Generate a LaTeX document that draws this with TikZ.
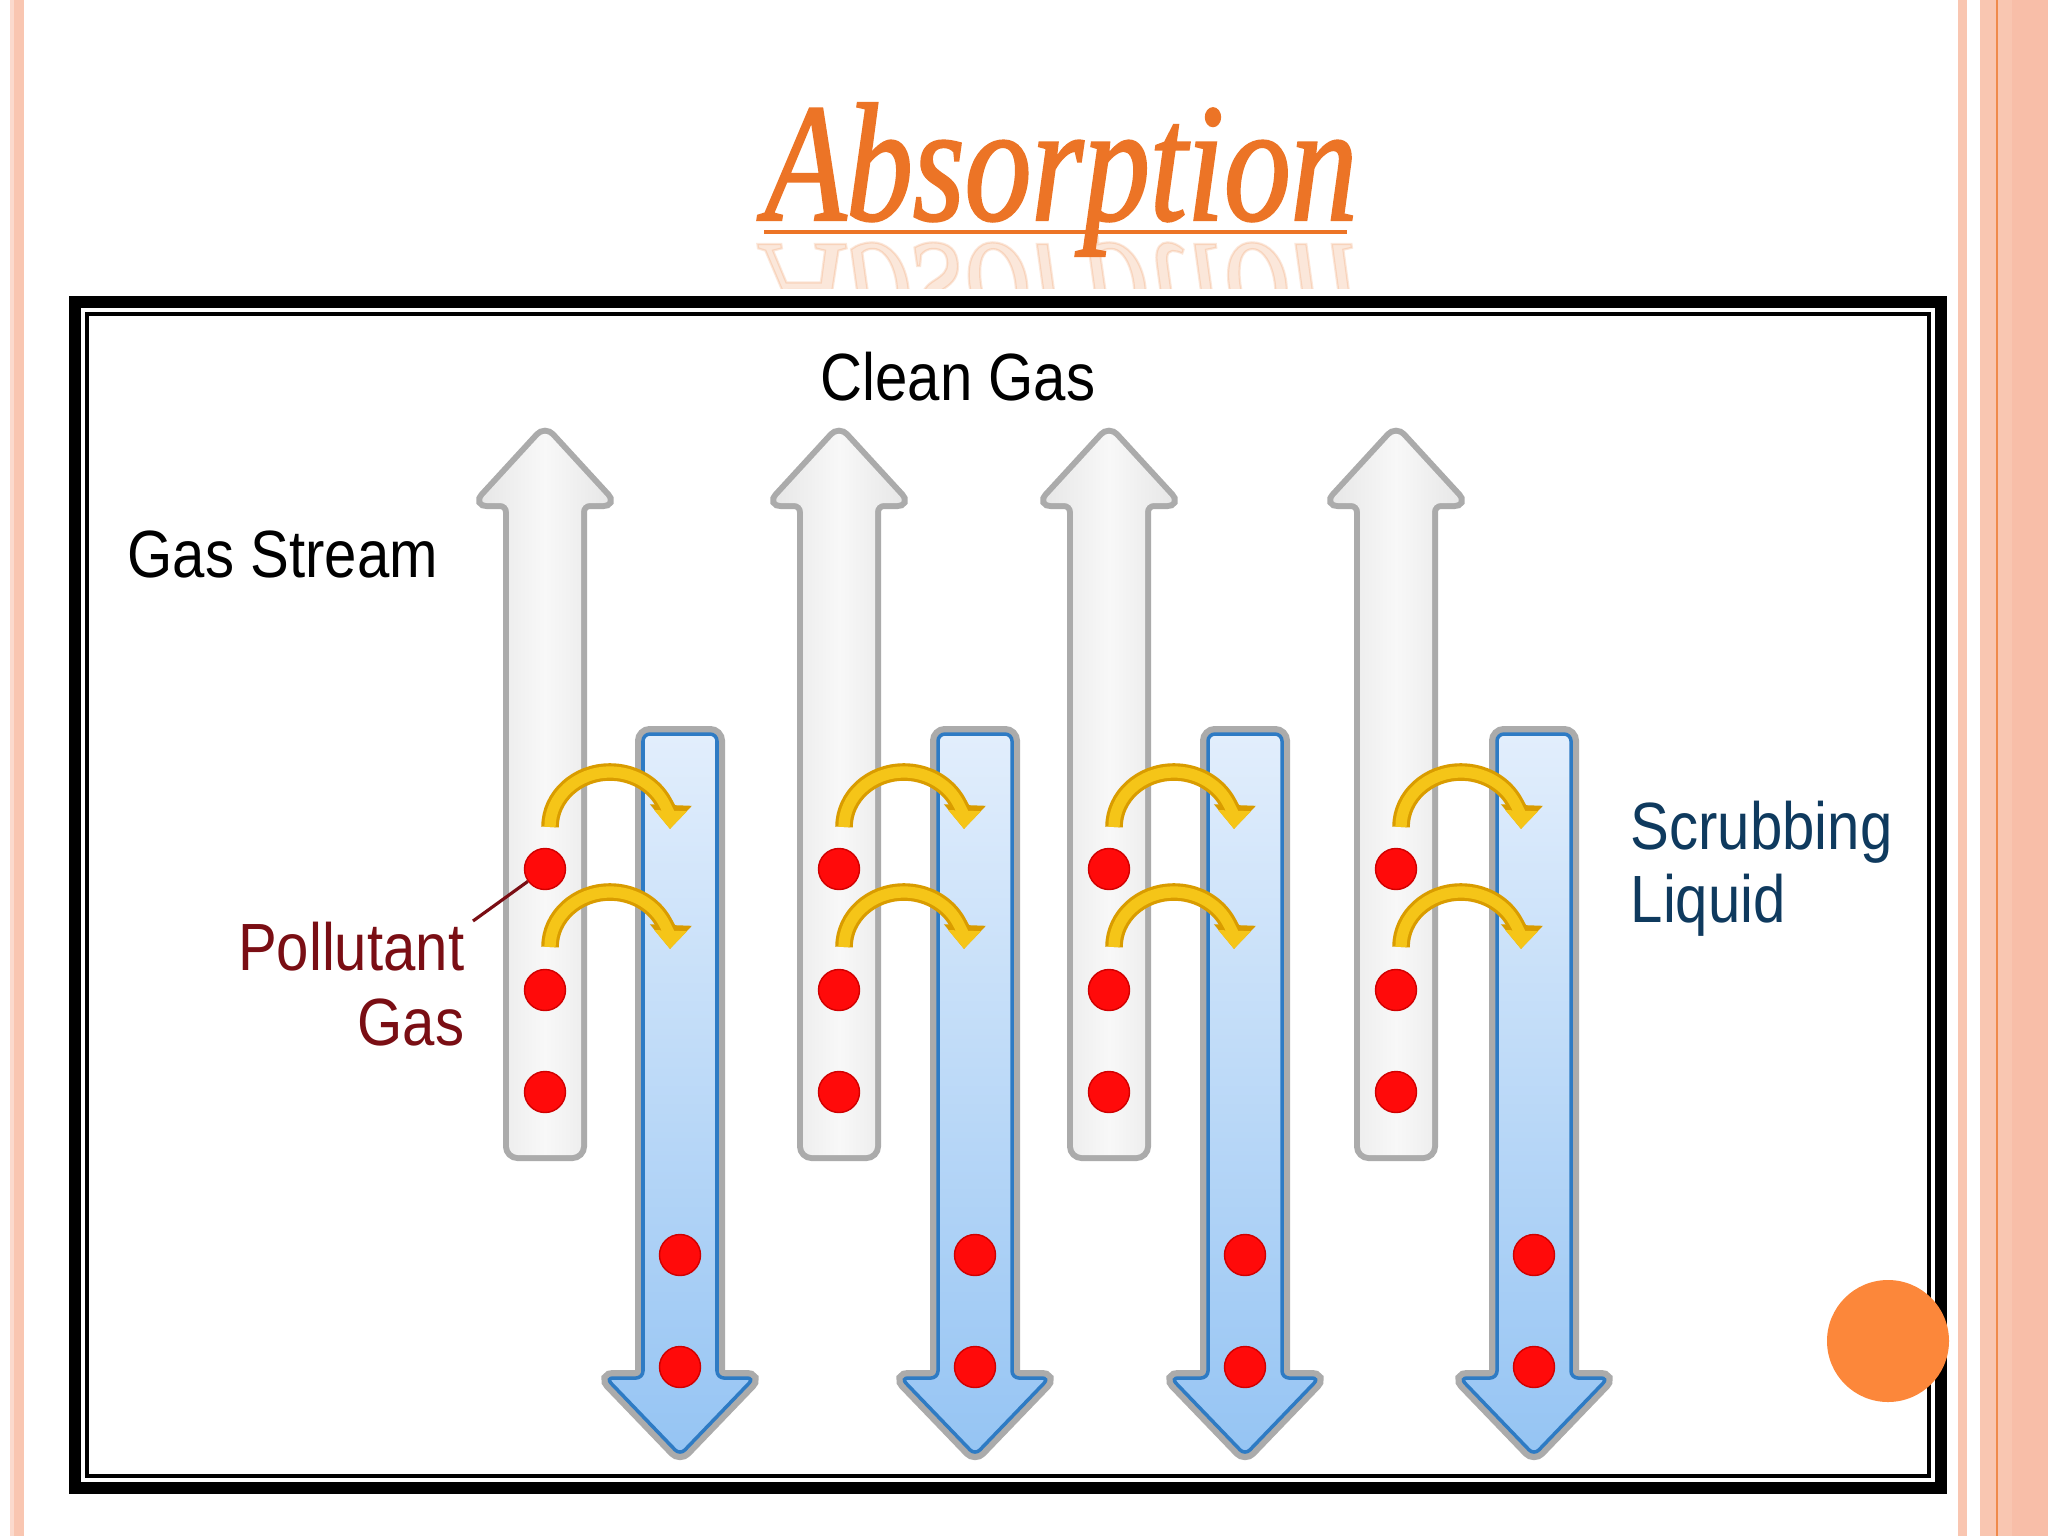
\documentclass[tikz,border=0pt]{standalone}
\usepackage{fontspec}
\setmainfont{Liberation Sans}
\newfontfamily\labfont[FakeStretch=0.87]{Liberation Sans}
\newfontfamily\titlefont[FakeStretch=0.79, FakeBold=1.3]{Liberation Serif}
\usetikzlibrary{arrows.meta}
\definecolor{stripeA}{HTML}{FBDACD}
\definecolor{stripeB}{HTML}{F9C6B1}
\definecolor{stripeC}{HTML}{F8BEA8}
\definecolor{stripeline}{HTML}{F08A4B}
\definecolor{titleorange}{HTML}{EC7426}
\definecolor{grayedge}{HTML}{ABABAB}
\definecolor{upmid}{HTML}{F8F8F8}
\definecolor{upside}{HTML}{E6E6E6}
\definecolor{blueline}{HTML}{2E7BC4}
\definecolor{bluetop}{HTML}{E2EEFC}
\definecolor{bluebot}{HTML}{95C4F3}
\definecolor{gold}{HTML}{F5C518}
\definecolor{golddark}{HTML}{D99C00}
\definecolor{dotred}{HTML}{FF0A0A}
\definecolor{dotedge}{HTML}{D00000}
\definecolor{pollred}{HTML}{7A0E14}
\definecolor{navy}{HTML}{0F3A5E}
\definecolor{circorange}{HTML}{FC873A}
\tikzset{
  lab/.style={font=\labfont\fontsize{19pt}{22pt}\selectfont, inner sep=0pt, text=black},
  dot/.style={circle, fill=dotred, draw=dotedge, line width=0.4pt, minimum size=0.41cm, inner sep=0pt},
  upedge/.style={draw=grayedge, line width=3.41pt, rounded corners=2.5pt},
  upfill/.style={left color=upside, right color=upside, middle color=upmid, rounded corners=2.5pt},
  downedge/.style={draw=grayedge, line width=4.55pt, rounded corners=2pt},
  downfill/.style={top color=bluetop, bottom color=bluebot, rounded corners=2pt},
  downline/.style={draw=blueline, line width=1pt, rounded corners=2pt},
  arcdark/.style={golddark, line width=5pt, -{Triangle[width=11.5pt,length=6.8pt]}},
  arclight/.style={gold, line width=3.2pt, -{Triangle[width=9pt,length=5.2pt]}}
}
\begin{document}
\begin{tikzpicture}[x=0.01cm,y=-0.01cm]
\fill[white] (0,0) rectangle (2048,1536);
\useasboundingbox (0,0) rectangle (2048,1536);
% side stripes
\fill[stripeA] (10,0) rectangle (14,1536);
\fill[stripeB] (14,0) rectangle (24,1536);
\fill[stripeB] (1958,0) rectangle (1967,1536);
\fill[stripeB] (1980,0) rectangle (2048,1536);
\fill[stripeC] (2012,0) rectangle (2048,1536);
\fill[stripeline] (1996,0) rectangle (1998,1536);
% title
\node[anchor=base west, inner sep=0pt, text=titleorange, font=\titlefont\itshape\fontsize{48pt}{50pt}\selectfont] (title) at (764,220) {Absorption};
\begin{scope}
\clip (700,235) rectangle (1400,288);
\node[anchor=base west, inner sep=0pt, text=titleorange, opacity=0.17, yscale=-1, transform shape, font=\titlefont\itshape\fontsize{48pt}{50pt}\selectfont] (titlerefl) at (764,244) {Absorption};
\end{scope}
\draw[titleorange, line width=1.2pt] (764,232) -- (1347,232);
% frame
\draw[black, line width=3.41pt] (75,302) rectangle (1941,1488);
\draw[black, line width=1.14pt] (87,314) rectangle (1929,1475.5);
% arrows
\foreach \u/\d/\i in {545/680/1, 839/975/2, 1109/1245/3, 1396/1534/4}{
  \path[upedge] (\u,430) -- ({\u+67},503) -- ({\u+36},503) -- ({\u+36},1155) -- ({\u-36},1155) -- ({\u-36},503) -- ({\u-67},503) -- cycle;
  \shade[upfill] (\u,430) -- ({\u+67},503) -- ({\u+36},503) -- ({\u+36},1155) -- ({\u-36},1155) -- ({\u-36},503) -- ({\u-67},503) -- cycle;
  \path[downedge] ({\d-37},734) -- ({\d+37},734) -- ({\d+37},1378) -- ({\d+74},1378) -- (\d,1455) -- ({\d-74},1378) -- ({\d-37},1378) -- cycle;
  \shade[downfill] ({\d-37},734) -- ({\d+37},734) -- ({\d+37},1378) -- ({\d+74},1378) -- (\d,1455) -- ({\d-74},1378) -- ({\d-37},1378) -- cycle;
  \path[downline] ({\d-37},734) -- ({\d+37},734) -- ({\d+37},1378) -- ({\d+74},1378) -- (\d,1455) -- ({\d-74},1378) -- ({\d-37},1378) -- cycle;
  \foreach \cy in {827,947}{
    \draw[arcdark] ({\u+5},\cy) arc[start angle=180, end angle=362, x radius=60, y radius=55];
    \draw[arclight] ({\u+5},\cy) arc[start angle=180, end angle=362, x radius=60, y radius=55];
  }
  \node[dot] (gu\i a) at (\u,869) {};
  \node[dot] (gu\i b) at (\u,990) {};
  \node[dot] (gu\i c) at (\u,1092) {};
  \node[dot] (ld\i a) at (\d,1255) {};
  \node[dot] (ld\i b) at (\d,1367) {};
}
% labels
\node[lab, anchor=base west] (clean) at (820,400) {Clean Gas};
\node[lab, anchor=base west] (stream) at (127,577) {Gas Stream};
\node[lab, anchor=base east, text=pollred] (poll1) at (465,970) {Pollutant};
\node[lab, anchor=base east, text=pollred] (poll2) at (465,1045) {Gas};
\coordinate (pl) at (473,921);
\draw[pollred, line width=0.9pt] (pl) -- (gu1a);
\node[lab, anchor=base west, text=navy] (scr1) at (1630,849) {Scrubbing};
\node[lab, anchor=base west, text=navy] (scr2) at (1630,922) {Liquid};
% orange circle
\fill[circorange] (1888,1341) circle[radius=61];
\end{tikzpicture}
\end{document}
